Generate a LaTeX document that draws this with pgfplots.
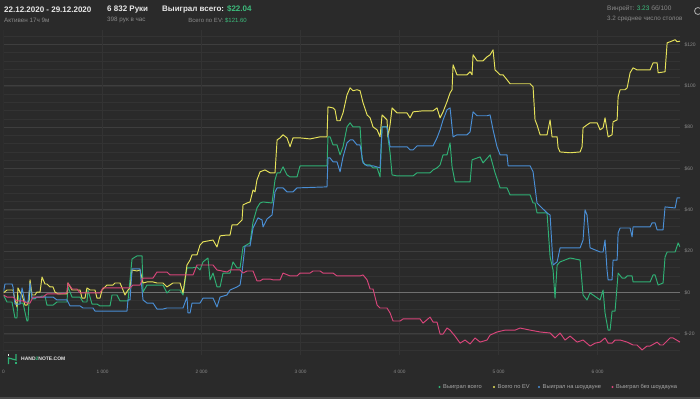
\documentclass[border=0pt]{standalone}
\usepackage{fontspec}
\setmainfont{Liberation Sans}
\usepackage{pgfplots}
\pgfplotsset{compat=1.18}
\definecolor{bg}{HTML}{2A2A2A}
\definecolor{bottomband}{HTML}{4A4A4A}
\definecolor{gridminor}{HTML}{333333}
\definecolor{gridmajor}{HTML}{3E3E3E}
\definecolor{zeroline}{HTML}{707070}
\definecolor{cgreen}{HTML}{2FB074}
\definecolor{cyellow}{HTML}{E6E25A}
\definecolor{cblue}{HTML}{4A8FD6}
\definecolor{cpink}{HTML}{D8457A}
\definecolor{txtgray}{HTML}{8A8A8A}
\definecolor{txtlight}{HTML}{A8A8A8}
\definecolor{txtwhite}{HTML}{E8E8E8}
\definecolor{txtgreen}{HTML}{3DBB7C}
\begin{document}
\begin{tikzpicture}[x=1pt,y=1pt]
\fill[bg] (0,0) rectangle (700,399);
\fill[bottomband] (0,0) rectangle (700,2.5);
\begin{axis}[
  at={(3.5pt,44.5pt)}, anchor=south west,
  scale only axis, width=676.5pt, height=324.5pt,
  xmin=0, xmax=6832, ymin=-30, ymax=127,
  axis line style={draw=none},
  major tick length=0pt, minor tick length=0pt,
  xtick={0,1000,2000,3000,4000,5000,6000},
  xticklabels={0,1 000,2 000,3 000,4 000,5 000,6 000},
  xticklabel style={font=\fontsize{4.8}{6}\selectfont, text=txtgray, yshift=-12pt},
  ytick={-20,0,20,40,60,80,100,120},
  yticklabels={\$-20,\$0,\$20,\$40,\$60,\$80,\$100,\$120},
  yticklabel pos=right,
  yticklabel style={font=\fontsize{5}{6}\selectfont, text=txtgray, anchor=west, xshift=1pt},
  minor ytick={-28,-24,...,124},
  ymajorgrids, yminorgrids,
  major grid style={gridmajor, line width=0.7pt},
  minor grid style={gridminor, line width=0.6pt},
  every axis plot/.append style={line width=0.95pt, line join=round, mark=none},
]
\pgfplotsinvokeforeach{0,1000,2000,3000,4000,5000,6000}{
  \draw[gridminor, line width=0.6pt] (axis cs:#1,-30) -- (axis cs:#1,127);
}
\draw[zeroline, line width=0.8pt] (axis cs:0,0) -- (axis cs:6832,0);

% Выиграл всего (green)
\addplot[cgreen] coordinates {
(0,-1.2)(35,-4.6)(86,-4.6)(116,-12.3)(136,-12.3)(146,-1.2)(167,-5.1)(197,-5.1)
(237,-13.8)(247,-13.8)(268,4.6)(288,-3.1)(318,-3.1)(338,-2.2)(369,-2.2)(389,-1.7)
(419,-1.7)(439,-6.1)(500,-6.1)(540,-4.6)(641,-4.6)(651,2.7)(692,-2.2)(773,-2.2)
(803,-4.6)(843,-4.6)(853,1.2)(894,-5.6)(944,-5.6)(975,-6.5)(1076,-6.5)(1096,-1.2)
(1146,-1.2)(1177,-4.1)(1257,-4.1)(1298,16.2)(1348,17.7)(1399,17.7)(1409,0.2)
(1449,3.6)(1611,3.6)(1651,-0.2)(1682,1.2)(1783,1.2)(1813,-1.2)(1853,11.9)(1904,11.9)
(1954,12.3)(1985,10.9)(2015,14.8)(2065,16.7)(2086,6.1)(2116,9.4)(2156,2.7)(2187,2.7)
(2217,9.4)(2288,9.4)(2318,14.8)(2358,11.9)(2389,11.9)(2419,22.0)(2490,24.0)(2520,34.1)
(2560,40.9)(2591,43.3)(2621,43.8)(2712,43.3)(2742,54.5)(2763,57.9)(2793,57.9)(2823,60.8)
(2863,56.9)(2894,55.9)(2964,55.9)(2995,61.3)(3267,61.3)(3277,75.3)(3298,75.3)(3328,71.4)
(3368,71.4)(3399,66.6)(3429,70.5)(3469,80.1)(3500,82.1)(3530,80.1)(3601,80.1)(3621,64.2)
(3651,61.7)(3702,61.7)(3732,60.3)(3773,60.3)(3803,55.9)(3823,80.1)(3873,80.1)(3883,74.8)
(3904,67.6)(3924,56.9)(3974,56.4)(4136,56.4)(4176,57.9)(4308,57.9)(4338,59.3)(4378,60.3)
(4409,61.7)(4439,66.6)(4479,66.6)(4510,72.4)(4530,60.8)(4560,53.5)(4611,53.5)(4712,53.5)
(4732,64.2)(4813,65.6)(4843,62.7)(4914,66.6)(4964,57.9)(5015,50.6)(5085,50.6)(5116,47.2)
(5318,47.2)(5348,43.3)(5368,43.3)(5388,38.5)(5489,38.5)(5520,17.2)(5550,10.9)(5570,-2.7)
(5591,13.3)(5621,14.8)(5722,16.7)(5823,15.7)(5853,-1.2)(5893,-3.6)(5924,-0.2)(6025,-3.6)
(6055,1.2)(6075,-9.9)(6106,-18.2)(6126,-18.2)(6146,-9.0)(6176,-9.0)(6207,9.4)(6247,7.0)
(6277,7.0)(6298,8.0)(6348,8.0)(6358,5.1)(6530,5.1)(6560,8.5)(6580,8.5)(6611,3.6)
(6661,4.6)(6681,17.2)(6702,19.6)(6783,19.6)(6813,24.0)(6832,22.04)
};

% Всего по EV (yellow)
\addplot[cyellow] coordinates {
(0,-0.2)(35,1.2)(96,1.2)(116,-3.6)(136,-7.0)(146,2.2)(167,0.2)(187,-1.2)(217,-6.1)
(237,-6.1)(258,-3.6)(268,6.1)(288,-1.2)(318,-1.2)(338,0.2)(369,0.2)(389,7.5)(419,4.1)
(439,4.1)(470,2.7)(500,2.7)(520,0.2)(550,-0.7)(641,-0.7)(651,4.6)(692,1.2)(773,1.2)
(793,-2.7)(823,-2.7)(843,2.2)(874,1.2)(924,1.2)(944,-2.7)(975,-2.7)(995,1.2)(1045,3.6)
(1106,3.6)(1126,4.6)(1177,4.6)(1207,1.2)(1227,-1.2)(1257,1.2)(1278,2.2)(1298,10.9)
(1348,10.4)(1379,10.9)(1409,4.6)(1449,5.1)(1510,5.1)(1550,4.6)(1611,4.6)(1651,2.7)
(1712,4.6)(1783,4.6)(1813,-0.2)(1853,13.3)(1884,15.7)(1904,18.2)(1954,18.2)(1985,23.0)
(2015,24.5)(2116,25.4)(2156,22.0)(2187,27.4)(2257,27.8)(2288,27.8)(2308,32.7)(2358,32.7)
(2389,34.1)(2409,35.1)(2419,42.4)(2459,43.3)(2490,43.8)(2520,49.6)(2540,48.7)(2560,54.5)
(2591,58.4)(2641,59.3)(2692,57.9)(2742,57.9)(2763,73.8)(2793,74.8)(2823,76.3)(2863,74.8)
(2894,70.5)(2924,74.8)(2995,74.8)(3096,74.3)(3197,75.3)(3267,75.3)(3277,89.8)(3328,89.3)
(3348,88.4)(3368,83.1)(3399,83.1)(3429,86.9)(3469,95.6)(3500,99.0)(3530,97.6)(3570,98.1)
(3601,97.6)(3631,91.8)(3672,85.9)(3702,84.5)(3732,80.1)(3773,78.7)(3803,75.3)(3823,85.9)
(3873,83.5)(3883,75.3)(3904,81.1)(3924,89.3)(3974,86.9)(4075,86.9)(4106,84.5)(4136,87.4)
(4237,87.9)(4338,87.9)(4378,89.3)(4409,84.5)(4439,87.4)(4479,92.3)(4510,96.6)(4530,98.1)
(4540,110.2)(4580,105.3)(4681,105.3)(4712,106.8)(4732,105.3)(4742,115.0)(4783,112.1)
(4843,112.1)(4883,114.0)(4914,115.0)(4944,117.4)(4964,107.7)(5015,105.3)(5045,105.3)
(5085,102.9)(5116,101.0)(5318,101.0)(5348,99.5)(5368,83.5)(5388,81.1)(5419,76.3)
(5489,76.3)(5520,83.5)(5540,75.3)(5591,75.3)(5601,70.0)(5621,68.0)(5722,67.6)(5823,68.0)
(5843,70.5)(5853,79.7)(5893,81.1)(5924,82.1)(5995,82.1)(6025,78.7)(6055,79.7)(6075,84.5)
(6106,75.3)(6146,76.3)(6156,82.6)(6197,83.5)(6207,94.7)(6227,98.1)(6277,98.1)(6298,99.0)
(6328,106.3)(6358,108.7)(6398,107.7)(6530,107.7)(6560,111.1)(6601,111.1)(6611,106.3)
(6681,106.8)(6702,120.8)(6732,121.3)(6783,122.3)(6803,121.3)(6832,121.6)
};

% Выиграл на шоудауне (blue)
\addplot[cblue] coordinates {
(0,0.2)(15,4.1)(86,4.1)(96,2.7)(116,-5.6)(167,-5.6)(187,2.2)(217,-4.6)(247,-4.6)
(268,4.6)(288,-2.7)(318,-2.7)(338,-2.2)(500,-2.2)(540,-3.6)(641,-3.6)(672,-6.5)
(773,-6.5)(803,-7.5)(904,-7.5)(924,-9.0)(1247,-9.0)(1257,-3.6)(1278,-3.6)(1298,11.4)
(1379,11.4)(1409,-3.6)(1449,-5.1)(1510,-5.1)(1550,-8.0)(1611,-8.0)(1651,-7.5)(1813,-7.5)
(1853,-2.2)(1863,-9.9)(1884,-9.9)(1904,-5.1)(1985,-5.1)(2015,-2.7)(2116,-2.7)(2156,-7.0)
(2187,-2.2)(2257,-1.2)(2288,1.2)(2358,2.7)(2389,3.6)(2409,9.9)(2439,22.5)(2490,22.5)
(2520,31.2)(2570,36.1)(2611,35.1)(2621,31.7)(2662,35.6)(2712,37.5)(2742,48.7)(2763,50.6)
(2823,50.6)(2863,48.7)(2924,48.7)(2964,50.6)(3267,51.1)(3277,65.1)(3298,65.1)(3328,63.2)
(3368,63.2)(3399,58.4)(3429,65.6)(3469,72.4)(3500,73.8)(3530,73.8)(3570,71.4)(3601,71.4)
(3631,62.7)(3672,61.3)(3732,61.3)(3803,60.3)(3823,80.1)(3873,80.1)(3904,70.5)(4075,70.5)
(4106,69.0)(4136,69.0)(4176,70.9)(4338,70.9)(4378,74.8)(4409,78.7)(4439,83.5)(4479,88.4)
(4510,89.3)(4540,75.3)(4580,76.3)(4681,76.3)(4712,77.7)(4742,87.4)(4783,85.5)(4883,85.5)
(4914,85.9)(4944,78.7)(4984,70.5)(5015,66.6)(5085,66.6)(5096,61.3)(5318,61.3)(5348,58.4)
(5388,43.3)(5489,38.5)(5520,37.5)(5550,13.3)(5591,14.8)(5621,21.6)(5823,21.6)(5853,25.4)
(5873,40.0)(5893,37.5)(5924,21.6)(6025,19.6)(6055,19.6)(6075,25.4)(6095,10.9)(6106,6.1)
(6146,6.1)(6156,15.7)(6197,15.7)(6207,28.8)(6227,31.2)(6328,31.2)(6348,26.9)(6358,31.7)
(6530,31.7)(6550,33.7)(6580,33.7)(6601,30.3)(6661,30.3)(6681,41.4)(6783,40.9)(6803,45.8)
(6832,45.8)
};

% Выиграл без шоудауна (pink)
\addplot[cpink] coordinates {
(0,-1.2)(35,-2.2)(96,-2.2)(136,-4.1)(197,-4.1)(237,-5.1)(268,-5.1)(298,-2.2)(399,-2.2)
(439,-0.7)(571,-0.7)(641,-0.2)(651,4.6)(692,1.7)(742,1.7)(773,-0.2)(975,-0.2)(1005,2.2)
(1146,2.2)(1278,2.2)(1308,3.6)(1379,3.6)(1409,7.0)(1510,7.0)(1550,9.9)(1651,9.9)
(1682,8.5)(1914,8.5)(1954,13.3)(2116,13.3)(2156,10.9)(2257,9.9)(2288,10.9)(2389,10.9)
(2419,9.4)(2459,10.4)(2520,10.4)(2560,5.6)(2591,5.6)(2621,6.5)(2692,6.5)(2722,6.1)
(2793,6.1)(2823,9.4)(2894,8.0)(2964,8.0)(2995,9.4)(3096,9.4)(3126,10.4)(3197,10.4)
(3227,9.4)(3328,9.4)(3368,8.0)(3601,8.0)(3631,8.5)(3672,6.1)(3702,1.7)(3732,1.7)
(3773,-6.1)(3803,-7.5)(3873,-7.5)(3904,-9.9)(3934,-13.8)(4005,-13.8)(4035,-12.8)
(4207,-12.8)(4237,-14.8)(4308,-11.9)(4338,-14.3)(4378,-14.3)(4409,-20.1)(4439,-20.1)
(4479,-17.2)(4510,-18.2)(4560,-21.1)(4611,-24.5)(4661,-23.0)(4712,-24.9)(4762,-22.0)
(4813,-24.0)(4883,-23.0)(4914,-20.6)(4984,-19.1)(5065,-18.2)(5166,-18.2)(5217,-17.2)
(5318,-18.2)(5419,-19.1)(5520,-19.6)(5570,-22.0)(5621,-19.6)(5671,-23.0)(5722,-21.1)
(5793,-24.0)(5853,-23.0)(5924,-25.9)(5975,-24.5)(6025,-24.0)(6075,-22.0)(6106,-24.5)
(6146,-24.5)(6176,-23.0)(6227,-23.0)(6298,-24.0)(6358,-25.4)(6398,-25.4)(6449,-27.8)
(6499,-25.9)(6530,-25.9)(6601,-24.0)(6631,-25.4)(6661,-25.4)(6732,-22.0)(6762,-22.0)
(6832,-24.0)
};
\end{axis}

% header
\node[anchor=west, inner sep=0, text=txtwhite, font=\fontsize{8}{9}\selectfont\bfseries] at (4,389.5) {22.12.2020 - 29.12.2020};
\node[anchor=west, inner sep=0, text=txtgray, font=\fontsize{6.3}{7}\selectfont] at (4,379) {Активен 17ч 9м};
\node[anchor=west, inner sep=0, text=txtwhite, font=\fontsize{8}{9}\selectfont\bfseries] at (107,389.5) {6 832 Руки};
\node[anchor=west, inner sep=0, text=txtgray, font=\fontsize{6.3}{7}\selectfont] at (107,379) {398 рук в час};
\node[anchor=west, inner sep=0, text=txtwhite, font=\fontsize{8}{9}\selectfont\bfseries] at (162,389.5) {Выиграл всего: \textcolor{txtgreen}{\$22.04}};
\node[anchor=east, inner sep=0, text=txtgray, font=\fontsize{6}{7}\selectfont] at (247,379) {Всего по EV: \textcolor{txtgreen}{\$121.60}};
\node[anchor=west, inner sep=0, text=txtgray, font=\fontsize{6.5}{7}\selectfont] at (607,390.5) {Винрейт: \textcolor{txtgreen}{3.23} бб/100};
\node[anchor=west, inner sep=0, text=txtgray, font=\fontsize{6.3}{7}\selectfont] at (607,380.5) {3.2 среднее число столов};
\draw[txtgray!70, line width=0.8pt] (698,388) circle (3.5);

% logo
\draw[cgreen, line width=1.2pt] (8.5,35) -- (8.5,41) -- (16,39) -- (16,45);
\draw[cgreen, line width=1.2pt] (16,35) -- (16,37);
\draw[txtwhite, line width=1.2pt] (8.5,43) -- (8.5,45);
\node[anchor=west, inner sep=0, text=txtwhite, font=\fontsize{5}{6}\selectfont\bfseries] at (21,40) {HAND\textcolor{cgreen}{2}NOTE.COM};

% legend
\fill[cgreen] (439.5,12) circle (1.1);
\node[anchor=west, inner sep=0, text=txtlight, font=\fontsize{5.7}{6}\selectfont] at (443,12) {Выиграл всего};
\fill[cyellow] (494,12) circle (1.1);
\node[anchor=west, inner sep=0, text=txtlight, font=\fontsize{5.7}{6}\selectfont] at (497.5,12) {Всего по EV};
\fill[cblue] (539,12) circle (1.1);
\node[anchor=west, inner sep=0, text=txtlight, font=\fontsize{5.7}{6}\selectfont] at (542.5,12) {Выиграл на шоудауне};
\fill[cpink] (612.5,12) circle (1.1);
\node[anchor=west, inner sep=0, text=txtlight, font=\fontsize{5.7}{6}\selectfont] at (616,12) {Выиграл без шоудауна};

\pgfresetboundingbox
\useasboundingbox (0,0) rectangle (700,399);
\end{tikzpicture}
\end{document}
